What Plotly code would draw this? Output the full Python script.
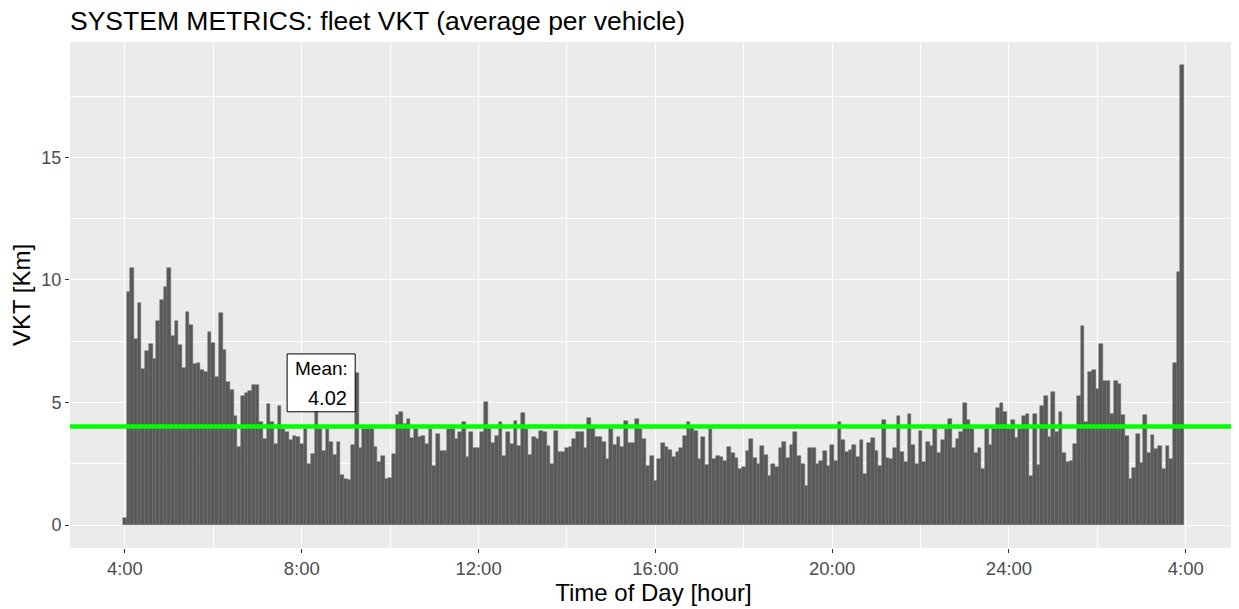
import plotly.graph_objects as go

# 5-minute bins from 4:00 to 27:55 (next-day 4:00), average VKT per vehicle [km]
bin_minutes = 5
start_hour = 4

vkt = [
    # 4:00 - 6:35
    0.27, 9.5, 10.5, 7.6, 9.05, 6.35, 7.08, 7.4, 6.78, 8.34, 9.2, 9.73, 10.5, 7.7, 8.34, 7.34,
    6.42, 8.7, 8.18, 6.58, 6.62, 6.32, 6.26, 7.86, 7.43, 6.05, 8.65, 7.14, 5.84, 5.51, 4.43, 3.18,
    # 6:40 - 9:15
    5.27, 5.4, 5.45, 5.73, 5.7, 4.19, 3.5, 4.93, 4.19, 3.3, 4.86, 3.9, 3.78, 3.45, 3.65, 3.58,
    3.31, 3.92, 2.5, 2.9, 4.7, 3.92, 3.04, 3.92, 3.38, 2.84, 3.4, 2.03, 1.89, 1.82, 3.27, 6.22,
    # 9:20 - 11:55
    3.14, 3.92, 3.92, 3.92, 3.18, 2.57, 2.81, 1.89, 1.93, 2.9, 4.49, 4.6, 4.12, 4.32, 3.54, 3.92,
    3.58, 3.65, 3.31, 3.92, 2.41, 3.7, 3.04, 3.0, 3.92, 3.92, 3.49, 3.78, 4.19, 2.77, 3.78, 3.14,
    # 12:00 - 14:40
    3.14, 3.81, 5.0, 3.92, 3.35, 3.65, 4.19, 2.81, 3.78, 3.31, 4.23, 3.24, 4.55, 3.92, 2.86, 3.61,
    3.51, 3.85, 3.81, 3.24, 2.5, 3.85, 2.97, 2.97, 3.14, 3.19, 3.49, 3.78, 3.81, 3.14, 4.38, 4.05,
    3.61,
    # 14:45 - 17:25
    3.61, 3.4, 2.68, 3.92, 3.28, 3.61, 3.18, 4.23, 3.34, 3.34, 4.32, 3.92, 3.49, 2.41, 2.81, 1.78,
    2.68, 3.34, 3.19, 3.07, 2.77, 2.97, 3.14, 3.65, 4.19, 4.03, 3.85, 2.68, 3.61, 2.46, 3.92, 2.68,
    2.81,
    # 17:30 - 20:05
    2.77, 2.62, 3.18, 2.93, 2.73, 2.3, 2.35, 3.04, 3.49, 2.73, 2.5, 3.24, 2.86, 1.99, 2.5, 2.35,
    3.14, 3.4, 2.73, 3.28, 3.81, 2.81, 2.5, 1.58, 3.14, 3.14, 2.5, 2.62, 3.04, 2.41, 3.27, 2.62,
    # 20:10 - 22:40
    4.22, 3.45, 2.97, 3.08, 3.28, 2.77, 3.45, 2.1, 3.34, 3.55, 3.04, 2.41, 4.27, 2.73, 2.68, 3.14,
    4.43, 2.97, 2.57, 4.54, 3.27, 2.5, 3.85, 2.57, 3.4, 3.24, 3.92, 2.93, 3.45, 3.92, 4.32,
    # 22:45 - 25:30
    3.14, 3.49, 3.78, 4.96, 4.27, 3.92, 2.92, 3.14, 2.3, 3.92, 3.28, 3.92, 4.79, 4.96, 4.6, 3.92,
    4.27, 3.55, 3.92, 4.43, 4.54, 1.99, 4.54, 2.46, 4.86, 5.27, 3.61, 5.43, 3.81, 4.6, 2.93, 2.57,
    2.62, 3.3,
    # 25:35 - 27:55
    5.25, 8.1, 4.2, 6.23, 6.33, 5.56, 7.37, 5.87, 5.87, 4.52, 5.87, 5.76, 4.48, 3.64, 1.87, 2.34,
    3.73, 2.54, 4.5, 2.92, 3.69, 3.12, 3.22, 2.27, 3.22, 2.68, 6.6, 10.34, 18.77,
]

mean_vkt = 4.02

tick_hours = [4, 8, 12, 16, 20, 24, 28]
tick_labels = ["4:00", "8:00", "12:00", "16:00", "20:00", "24:00", "4:00"]

hours = [start_hour + i * bin_minutes / 60 for i in range(len(vkt))]
bin_width = bin_minutes / 60

FONT = "Liberation Sans, Arial, sans-serif"

# the page body adds an 8px margin, so the figure is a bit smaller than the window
W, H = 1231, 601

fig = go.Figure()

fig.add_trace(go.Bar(
    x=hours,
    y=vkt,
    width=bin_width,
    marker=dict(color="#595959", line=dict(color="#6a6a6a", width=0.5)),
    showlegend=False,
    hoverinfo="x+y",
))

# mean line across the whole panel
fig.add_shape(type="line", xref="paper", x0=0, x1=1, yref="y",
              y0=mean_vkt, y1=mean_vkt,
              line=dict(color="#00FF00", width=4.5))

# "Mean:" label box
lab_x0, lab_x1 = 7.67, 9.21
lab_y0, lab_y1 = 4.62, 6.98
fig.add_shape(type="rect", xref="x", yref="y",
              x0=lab_x0, x1=lab_x1, y0=lab_y0, y1=lab_y1,
              line=dict(color="black", width=1), fillcolor="white", layer="above")
fig.add_annotation(x=lab_x1, y=6.4, xref="x", yref="y", xanchor="right",
                   xshift=-5, text="Mean:", showarrow=False,
                   font=dict(family=FONT, size=19, color="black"))
fig.add_annotation(x=lab_x1, y=5.18, xref="x", yref="y", xanchor="right",
                   xshift=-6, text=f"{mean_vkt:.2f}", showarrow=False,
                   font=dict(family=FONT, size=20, color="black"))

y_max = max(vkt)
x_lo = hours[0] - bin_width / 2
x_hi = hours[-1] + bin_width / 2
x_pad = (x_hi - x_lo) * 0.05

fig.update_layout(
    width=W, height=H,
    margin=dict(l=62, r=2, t=34, b=61),
    paper_bgcolor="white",
    plot_bgcolor="#EBEBEB",
    bargap=0,
    font=dict(family=FONT, color="black"),
    title=dict(text="SYSTEM METRICS: fleet VKT (average per vehicle)",
               x=62 / W, xanchor="left", xref="container",
               y=1 - 13 / H, yanchor="middle", yref="container",
               font=dict(family=FONT, size=26.5, color="black")),
)

fig.update_xaxes(
    range=[x_lo - x_pad, x_hi + x_pad],
    automargin=False,
    tickvals=tick_hours, ticktext=tick_labels,
    ticks="outside", ticklen=4, tickcolor="#333333", tickwidth=1,
    tickfont=dict(family=FONT, size=18.5, color="#4D4D4D"),
    showgrid=True, gridcolor="white", gridwidth=1.3,
    minor=dict(dtick=2, tick0=2, showgrid=True, gridcolor="white", gridwidth=0.6, ticklen=0),
    zeroline=False, showline=False,
    title=dict(text="Time of Day [hour]", standoff=5,
               font=dict(family=FONT, size=24, color="black")),
)

fig.update_yaxes(
    range=[-0.05 * y_max, y_max * 1.05],
    automargin=False,
    tickvals=[0, 5, 10, 15],
    ticks="outside", ticklen=4, tickcolor="#333333", tickwidth=1,
    tickfont=dict(family=FONT, size=18, color="#4D4D4D"),
    showgrid=True, gridcolor="white", gridwidth=1.3,
    minor=dict(dtick=2.5, tick0=0, showgrid=True, gridcolor="white", gridwidth=0.6, ticklen=0),
    zeroline=False, showline=False,
    title=dict(text="VKT [Km]", standoff=8,
               font=dict(family=FONT, size=24, color="black")),
)

fig.write_html("out.html")
